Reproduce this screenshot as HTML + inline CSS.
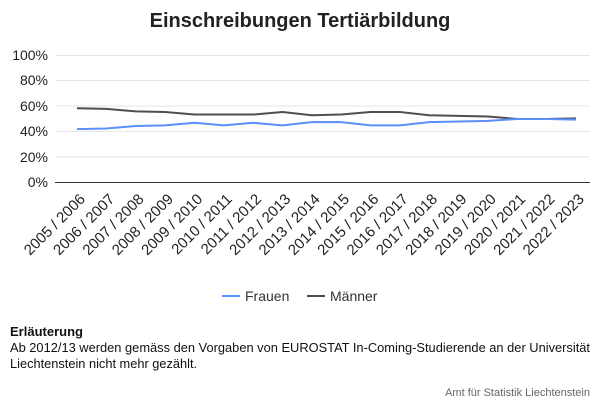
<!DOCTYPE html>
<html><head><meta charset="utf-8"><style>
html,body{margin:0;padding:0;background:#fff;}
body{width:600px;height:400px;overflow:hidden;}
</style></head><body>
<svg width="600" height="400" xmlns="http://www.w3.org/2000/svg" font-family="Liberation Sans, sans-serif">
<rect width="600" height="400" fill="#fff"/>
<text x="300" y="27" text-anchor="middle" font-size="20" font-weight="bold" fill="#222">Einschreibungen Tertiärbildung</text>
<g stroke="#e6e6e6" stroke-width="1">
<line x1="55" x2="590" y1="55.5" y2="55.5"/>
<line x1="55" x2="590" y1="80.5" y2="80.5"/>
<line x1="55" x2="590" y1="106" y2="106"/>
<line x1="55" x2="590" y1="131.5" y2="131.5"/>
<line x1="55" x2="590" y1="157" y2="157"/>
</g>
<line x1="55" x2="590" y1="182.5" y2="182.5" stroke="#333" stroke-width="1"/>
<g font-size="14" fill="#222" text-anchor="end">
<text x="48" y="60">100%</text>
<text x="48" y="85">80%</text>
<text x="48" y="111">60%</text>
<text x="48" y="136">40%</text>
<text x="48" y="162">20%</text>
<text x="48" y="187">0%</text>
</g>
<polyline fill="none" stroke="#4f4f4f" stroke-width="2" id="m"/>
<polyline fill="none" stroke="#5b8ff9" stroke-width="2" id="f"/>
<g id="lbl" font-size="15" fill="#222" text-anchor="end"></g>
<line x1="222" x2="240" y1="296" y2="296" stroke="#5b8ff9" stroke-width="2"/>
<text x="245" y="301" font-size="14" fill="#333">Frauen</text>
<line x1="307" x2="325" y1="296" y2="296" stroke="#4f4f4f" stroke-width="2"/>
<text x="330" y="301" font-size="14" fill="#333">Männer</text>
<text x="10" y="336" font-size="13" font-weight="bold" fill="#111">Erläuterung</text>
<text x="10" y="352" font-size="12.8" fill="#111" textLength="580" lengthAdjust="spacingAndGlyphs">Ab 2012/13 werden gemäss den Vorgaben von EUROSTAT In-Coming-Studierende an der Universität</text>
<text x="10" y="368" font-size="12.8" fill="#111">Liechtenstein nicht mehr gezählt.</text>
<text x="590" y="396" font-size="11" fill="#666" text-anchor="end">Amt für Statistik Liechtenstein</text>
</svg>
<script>
var m=[58.5,58,56,55.5,53.5,53.5,53.5,55.5,53,53.5,55.5,55.5,53,52.5,52,50,50,50.5];
var f=[42,42.5,44.5,45,47,45,47,45,47.5,47.5,45,45,47.5,48,48.5,50,50,49.5];
function y(v){return 182.5-v*1.27;}
function x(i){return 77+i*29.35;}
document.getElementById('m').setAttribute('points',m.map(function(v,i){return x(i)+','+y(v)}).join(' '));
document.getElementById('f').setAttribute('points',f.map(function(v,i){return x(i)+','+y(v)}).join(' '));
var g=document.getElementById('lbl'),s='';
for(var i=0;i<18;i++){var a=2005+i;var tx=x(i)+9,ty=200;
s+='<text transform="translate('+tx+','+ty+') rotate(-45)">'+a+' / '+(a+1)+'</text>';}
g.innerHTML=s;
</script>
</body></html>
